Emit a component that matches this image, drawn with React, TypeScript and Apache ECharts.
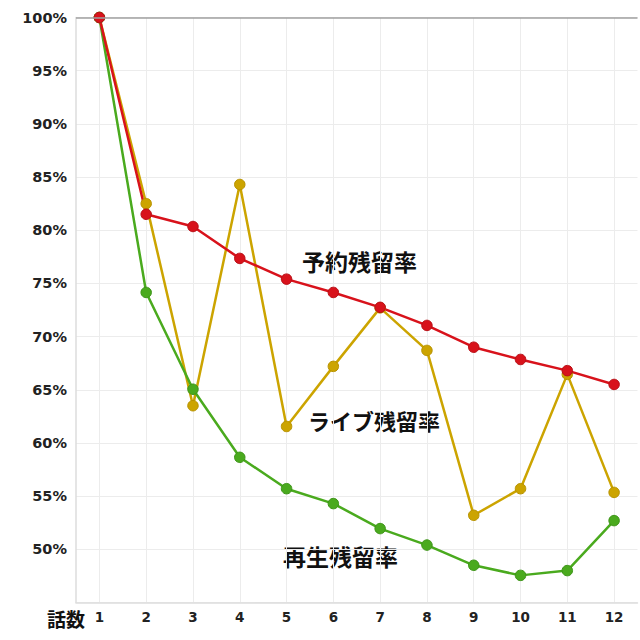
import React, { useEffect, useRef } from "react";
import * as echarts from "echarts";

const episodes = ["1", "2", "3", "4", "5", "6", "7", "8", "9", "10", "11", "12"];
const reservation = [100, 81.5, 80.35, 77.35, 75.4, 74.15, 72.75, 71.05, 69.0, 67.85, 66.8, 65.5];
const live = [100, 82.5, 63.5, 84.3, 61.55, 67.2, 72.7, 68.7, 53.2, 55.7, 66.45, 55.35];
const playback = [100, 74.15, 65.05, 58.65, 55.7, 54.3, 51.95, 50.4, 48.5, 47.55, 48.0, 52.7];
const yMin = 45;
const yMax = 100;
const yStep = 5;

const LATIN = "'DejaVu Sans', Verdana, sans-serif";
const CJK = "'Noto Sans CJK JP', 'DejaVu Sans', sans-serif";

export default function App() {
  const ref = useRef<HTMLDivElement>(null);
  useEffect(() => {
    if (!ref.current) return;
    const chart = echarts.init(ref.current, null, { renderer: "svg" });
    const mk = (name: string, data: number[], color: string, border: string) => ({
      name,
      type: "line",
      data,
      symbol: "circle",
      symbolSize: 10.5,
      lineStyle: { color, width: 2.5 },
      itemStyle: { color, borderColor: border, borderWidth: 1 },
    });
    chart.setOption({
      animation: false,
      grid: { left: 76, right: 2.5, top: 17.5, bottom: 37.5 },
      xAxis: {
        type: "category",
        data: episodes,
        boundaryGap: true,
        axisLine: { show: true, lineStyle: { color: "#dddddd", width: 1.5 } },
        axisTick: { show: false },
        axisLabel: { color: "#222", fontWeight: "bold", fontSize: 13.5, fontFamily: LATIN, margin: 7 },
        splitLine: { show: true, alignWithLabel: true, lineStyle: { color: "#ececec", width: 1 } },
      },
      yAxis: {
        type: "value",
        min: yMin,
        max: yMax,
        interval: yStep,
        axisLine: { show: true, lineStyle: { color: "#dddddd", width: 1.5 } },
        axisTick: { show: false },
        axisLabel: {
          color: "#222",
          fontWeight: "bold",
          fontSize: 14.5,
          fontFamily: LATIN,
          margin: 9,
          formatter: (v: number) => (v === yMin ? "" : v + "%"),
        },
        splitLine: { show: true, lineStyle: { color: "#ececec", width: 1 } },
      },
      series: [
        {
          ...mk("ライブ残留率", live, "#cca400", "#b89300"),
          markLine: {
            silent: true,
            symbol: "none",
            label: { show: false },
            lineStyle: { color: "#a0a0a0", width: 1.5, type: "solid" },
            data: [{ yAxis: yMax }],
          },
        },
        mk("再生残留率", playback, "#4aaa1e", "#3d9418"),
        mk("予約残留率", reservation, "#d8121b", "#b80f16"),
      ],
      graphic: [
        { type: "text", x: 47, y: 618, style: { text: "話数", font: `bold 19px ${CJK}`, fill: "#111", verticalAlign: "middle" } },
        { type: "text", x: 302, y: 261, style: { text: "予約残留率", font: `bold 23px ${CJK}`, fill: "#111", verticalAlign: "middle" } },
        { type: "text", x: 308, y: 420, style: { text: "ライブ残留率", font: `bold 22px ${CJK}`, fill: "#111", verticalAlign: "middle" } },
        { type: "text", x: 283, y: 556, style: { text: "再生残留率", font: `bold 23px ${CJK}`, fill: "#111", verticalAlign: "middle" } },
      ],
    });
    return () => chart.dispose();
  }, []);
  return <div ref={ref} style={{ width: 640, height: 640, position: "absolute", left: 0, top: 0 }} />;
}
